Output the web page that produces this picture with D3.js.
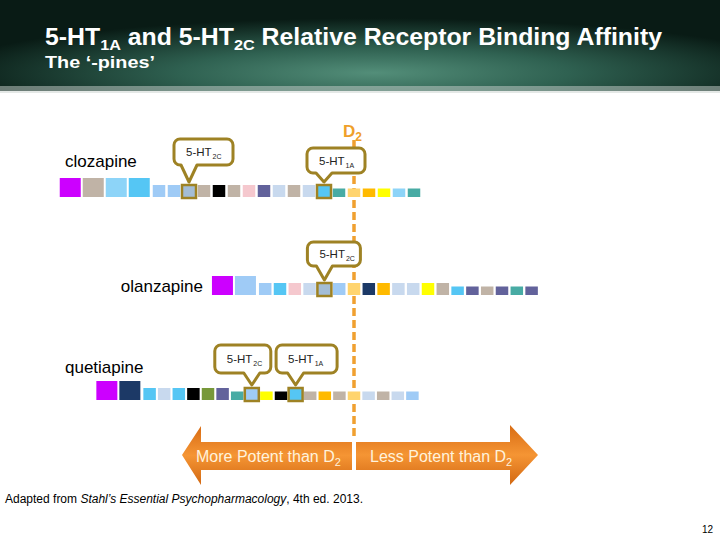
<!DOCTYPE html>
<html><head><meta charset="utf-8">
<script src="https://cdn.jsdelivr.net/npm/d3@7"></script>
<style>body{margin:0;background:#fff}svg{display:block}</style>
</head><body><svg id="c" width="720" height="540"></svg>
<script>
// ---------------- DATA ----------------
const drugs = ["clozapine", "olanzapine", "quetiapine"];
// receptors ordered from most potent (left) to least potent (right); colour keys
const clozapineReceptors = ["purple","tan","skyLight","sky","paleBlue","paleBlue","greyBlue","tan","black","tan","pink","slate","steel","tan","steel","sky","teal","gold","amber","yellow","skyLight","teal"];
const clozapineTiers     = [1,1,1,1,2,2,2,2,2,2,2,2,2,2,2,2,3,3,3,3,3,3];
const olanzapineReceptors = ["purple","paleBlue","paleBlue","sky","pink","steel","greyBlue","paleBlue","gold","navy","amber","steel","steel","yellow","tan","sky","slate","tan","slate","teal","slate"];
const olanzapineTiers     = [1,1,2,2,2,2,2,2,2,2,2,2,2,2,2,3,3,3,3,3,3];
const quetiapineReceptors = ["purple","navy","sky","steel","sky","black","olive","slate","teal","paleBlue","yellow","black","sky","tan","amber","tan","gold","steel","tan","steel","paleBlue"];
const quetiapineTiers     = [1,1,2,2,2,2,2,2,3,3,3,3,3,3,3,3,3,3,3,3,3];
// index of D2 in each row, and highlighted receptors (index, subscript label)
const d2Index = {clozapine: 17, olanzapine: 8, quetiapine: 16};
const highlights = [
  {drug: "clozapine", index: 6, sub: "2C"},
  {drug: "clozapine", index: 15, sub: "1A"},
  {drug: "olanzapine", index: 6, sub: "2C"},
  {drug: "quetiapine", index: 9, sub: "2C"},
  {drug: "quetiapine", index: 12, sub: "1A"}
];
const arrowLabels = ["More Potent than D", "Less Potent than D"];

// ---------------- STYLE / LAYOUT ----------------
const colour = d3.scaleOrdinal()
  .domain(["purple","tan","skyLight","sky","paleBlue","greyBlue","black","pink","slate","steel","teal","gold","amber","yellow","navy","olive"])
  .range(["#CC00FF","#C0B3A6","#8DD4F8","#55C6F4","#9FCBF6","#A3BDD6","#000000","#F5C8CE","#62629B","#C8D9EE","#48ABA4","#FFD46E","#FFBA00","#FFFF00","#1C3966","#779839"]);
const tierW = d3.scaleOrdinal().domain([1,2,3]).range([21,12.5,12.5]);
const tierH = d3.scaleOrdinal().domain([1,2,3]).range([19,12,8.5]);
const rowBottom = d3.scaleOrdinal().domain(drugs).range([197,295,400]);
const rowPitch = {clozapine: 15, olanzapine: 14.8, quetiapine: 14.6};
const bigPitch = 23;
const d2X = 354; // centre of D2 squares / dashed line
const rows = {
  clozapine: {rec: clozapineReceptors, tier: clozapineTiers},
  olanzapine: {rec: olanzapineReceptors, tier: olanzapineTiers},
  quetiapine: {rec: quetiapineReceptors, tier: quetiapineTiers}
};

const svg = d3.select("#c");
const defs = svg.append("defs");

// header background
const rg = defs.append("radialGradient").attr("id","hdr").attr("cx","0.52").attr("cy","0.8").attr("r","0.6");
rg.append("stop").attr("offset","0%").attr("stop-color","#538E79");
rg.append("stop").attr("offset","45%").attr("stop-color","#2F6151");
rg.append("stop").attr("offset","100%").attr("stop-color","#091B15");
svg.append("rect").attr("x",0).attr("y",0).attr("width",720).attr("height",91).attr("fill","url(#hdr)");
svg.append("rect").attr("x",0).attr("y",86).attr("width",720).attr("height",7).attr("fill","#C9D2CE").attr("opacity",0.5);

const FONT = "'Liberation Sans', Arial, Helvetica, sans-serif";
const title = svg.append("text").attr("x",45).attr("y",45).attr("fill","#fff")
  .attr("font-family","'Liberation Sans Narrow', 'Arial Narrow', " + FONT).attr("font-weight","bold").attr("font-size",23)
  .attr("textLength",617).attr("lengthAdjust","spacingAndGlyphs");
title.append("tspan").text("5-HT");
title.append("tspan").attr("font-size",15).attr("dy",5).text("1A");
title.append("tspan").attr("dy",-5).text(" and 5-HT");
title.append("tspan").attr("font-size",15).attr("dy",5).text("2C");
title.append("tspan").attr("dy",-5).text(" Relative Receptor Binding Affinity");
svg.append("text").attr("x",45).attr("y",68).attr("fill","#fff")
  .attr("font-family","'Liberation Sans Narrow', 'Arial Narrow', " + FONT).attr("font-weight","bold").attr("font-size",17)
  .attr("textLength",110).attr("lengthAdjust","spacingAndGlyphs")
  .text("The \u2018-pines\u2019");

// D2 dashed line + label
svg.append("line").attr("x1",d2X).attr("x2",d2X).attr("y1",140).attr("y2",440)
  .attr("stroke","#F0A030").attr("stroke-width",3.5).attr("stroke-dasharray","8,4");
const d2l = svg.append("text").attr("x",343).attr("y",137).attr("fill","#EFA02A")
  .attr("font-family",FONT).attr("font-weight","bold").attr("font-size",17);
d2l.append("tspan").text("D");
d2l.append("tspan").attr("font-size",12).attr("dy",4).text("2");

// compute square positions (centres) from data
function layout(drug) {
  const r = rows[drug], di = d2Index[drug], p = rowPitch[drug];
  const cx = new Array(r.rec.length);
  cx[di] = d2X;
  for (let i = di + 1; i < r.rec.length; i++) cx[i] = cx[i-1] + p;
  for (let i = di - 1; i >= 0; i--) {
    const step = (r.tier[i] === 1 && r.tier[i+1] === 1) ? bigPitch
               : (r.tier[i] === 1) ? (tierW(1)/2 + tierW(r.tier[i+1])/2 + 3) : p;
    cx[i] = cx[i+1] - step;
  }
  return r.rec.map((k, i) => ({drug, key: k, tier: r.tier[i], cx: cx[i], i}));
}
const allSquares = drugs.flatMap(layout);
const byDrug = d3.group(allSquares, d => d.drug);

svg.append("g").selectAll("rect").data(allSquares).join("rect")
  .attr("x", d => d.cx - tierW(d.tier)/2)
  .attr("y", d => rowBottom(d.drug) - tierH(d.tier))
  .attr("width", d => tierW(d.tier))
  .attr("height", d => tierH(d.tier))
  .attr("fill", d => colour(d.key));

// highlighted receptors
const hl = highlights.map(h => byDrug.get(h.drug)[h.index]);
svg.append("g").selectAll("rect").data(hl).join("rect")
  .attr("x", d => d.cx - 7).attr("y", d => rowBottom(d.drug) - 12)
  .attr("width", 14).attr("height", 13)
  .attr("fill", d => colour(d.key))
  .attr("stroke", "#9E8224").attr("stroke-width", 2.5);

// callouts (layout per highlight: box left offset from centre, top, width, height)
const calloutBox = [
  {dx:-15, top:139, w:59, h:26},
  {dx:-17, top:148, w:58, h:25},
  {dx:-17, top:242, w:53, h:24},
  {dx:-37, top:345, w:56, h:28},
  {dx:-19.5, top:345, w:61, h:28}
];
highlights.forEach((h, k) => {
  const sq = hl[k], b = calloutBox[k];
  const x = sq.cx + b.dx, y = b.top, w = b.w, hh = b.h, r = 6;
  const tipY = rowBottom(sq.drug) - 15, cx = sq.cx;
  const p = d3.path();
  p.moveTo(x + r, y);
  p.lineTo(x + w - r, y); p.arcTo(x + w, y, x + w, y + r, r);
  p.lineTo(x + w, y + hh - r); p.arcTo(x + w, y + hh, x + w - r, y + hh, r);
  p.lineTo(cx + 8, y + hh); p.lineTo(cx, tipY); p.lineTo(cx - 8, y + hh);
  p.lineTo(x + r, y + hh); p.arcTo(x, y + hh, x, y + hh - r, r);
  p.lineTo(x, y + r); p.arcTo(x, y, x + r, y, r);
  p.closePath();
  svg.append("path").attr("d", p.toString()).attr("fill", "#fff")
    .attr("stroke", "#9E8224").attr("stroke-width", 3).attr("stroke-linejoin","round");
  const t = svg.append("text").attr("x", x + 12).attr("y", y + hh/2 + 4)
    .attr("font-family", FONT).attr("font-size", 11.5).attr("fill", "#222");
  t.append("tspan").text("5-HT");
  t.append("tspan").attr("font-size", 7).attr("dy", 3).attr("dx", 1).text(h.sub);
});

// drug labels
const labelPos = {clozapine: {x:65, y:167, anchor:"start"}, olanzapine: {x:203, y:292, anchor:"end"}, quetiapine: {x:65, y:373, anchor:"start"}};
svg.append("g").selectAll("text").data(drugs).join("text")
  .attr("x", d => labelPos[d].x).attr("y", d => labelPos[d].y)
  .attr("text-anchor", d => labelPos[d].anchor)
  .attr("font-family", FONT).attr("font-size", 17).attr("fill", "#000")
  .text(d => d);

// arrows
const ag = defs.append("linearGradient").attr("id","arr").attr("x1",0).attr("x2",0).attr("y1",0).attr("y2",1);
ag.append("stop").attr("offset","0%").attr("stop-color","#D86C14");
ag.append("stop").attr("offset","50%").attr("stop-color","#F59534");
ag.append("stop").attr("offset","100%").attr("stop-color","#D26812");
const leftArrow = [[182,455],[201,426],[201,442],[352,442],[352,470],[201,470],[201,485]];
const rightArrow = [[356,442],[510,442],[510,425],[538,455],[510,485],[510,470],[356,470]];
svg.append("path").attr("d", d3.line()(leftArrow) + "Z").attr("fill","url(#arr)");
svg.append("path").attr("d", d3.line()(rightArrow) + "Z").attr("fill","url(#arr)");
[[196, arrowLabels[0]], [370, arrowLabels[1]]].forEach(([x, s]) => {
  const t = svg.append("text").attr("x", x).attr("y", 462).attr("font-family", FONT)
    .attr("font-size", 16).attr("fill", "#FFF2DC");
  t.append("tspan").text(s);
  t.append("tspan").attr("font-size", 11).attr("dy", 4).text("2");
});

// footer
const f = svg.append("text").attr("x",5).attr("y",503).attr("font-family",FONT).attr("font-size",12).attr("fill","#000");
f.append("tspan").text("Adapted from ");
f.append("tspan").attr("font-style","italic").text("Stahl\u2019s Essential Psychopharmacology");
f.append("tspan").text(", 4th ed. 2013.");
svg.append("text").attr("x",713).attr("y",533).attr("text-anchor","end").attr("font-family",FONT).attr("font-size",10).text("12");
</script></body></html>
